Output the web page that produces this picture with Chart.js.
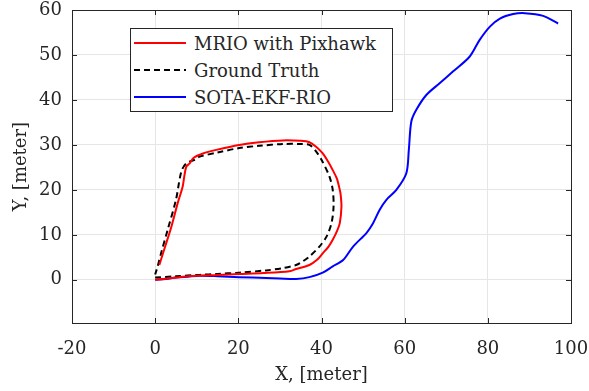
<!DOCTYPE html>
<html>
<head>
<meta charset="utf-8">
<script src="https://cdn.jsdelivr.net/npm/chart.js@4"></script>
<style>
  body { margin: 0; background: #fff; }
  .wrap { position: relative; width: 589px; height: 391px; }
  .legend {
    position: absolute; left: 130px; top: 28px; width: 261px; height: 82px;
    border: 1px solid #262626; background: #fff;
    font-family: "DejaVu Serif", serif; font-size: 18px; color: #262626;
  }
  .legend .row { position: absolute; left: 3px; height: 20px; display: flex; align-items: center; }
  .legend svg { margin-right: 8px; }
</style>
</head>
<body>
<div class="wrap">
  <canvas id="trajChart" width="589" height="391"></canvas>
  <div class="legend" id="legend"></div>
</div>
<script>
const xTicks = [-20, 0, 20, 40, 60, 80, 100];
const yTicks = [0, 10, 20, 30, 40, 50, 60];

const seriesNames = ['MRIO with Pixhawk', 'Ground Truth', 'SOTA-EKF-RIO'];

// MRIO with Pixhawk (red)
const mrioX = [0, 3, 8, 15, 20.2, 26, 32.3, 33.9, 37.1, 39, 40.3, 41.7, 42.7, 43.8, 44.4, 44.8, 44.6, 44.4, 43.7, 42.7, 41.5, 40.3, 38.7, 37.1, 35, 30.7, 25, 20.2, 14.7, 11.5, 9.2, 8.3, 7.5, 7, 6.6, 5.4, 3.9, 2.4, 1];
const mrioY = [0, 0.3, 0.8, 1.1, 1.3, 1.5, 1.9, 2.4, 3.3, 4.5, 5.9, 7.4, 8.9, 11, 12.6, 16.3, 19, 20, 22.5, 24.4, 26.4, 28.1, 29.6, 30.6, 30.9, 31, 30.6, 30, 28.9, 28.1, 27.1, 25.9, 25.2, 23, 20.7, 17, 11.8, 7.4, 3.3];

// Ground Truth (black dashed)
const truthX = [0, 5, 10.7, 15, 20.2, 26.7, 30.7, 33.9, 35.5, 37.1, 39.5, 41.2, 42.4, 42.9, 42.7, 41.9, 40, 38.5, 37.1, 35, 30.7, 25, 20.2, 15, 10.7, 9.5, 7.5, 6.3, 5, 3, 1.6, 0.6, 0];
const truthY = [0.5, 0.8, 1.1, 1.3, 1.6, 2.1, 2.6, 3.3, 4.1, 5.2, 7.4, 9.6, 12.6, 16.3, 20, 23, 26.7, 28.8, 30, 30.2, 30.2, 29.8, 29.3, 28.3, 27.4, 26.7, 25.9, 24.1, 17.8, 11.1, 6.5, 3, 1.2];

// SOTA-EKF-RIO (blue)
const sotaX = [0, 2.6, 5, 7.8, 10.7, 15, 20.2, 26.7, 30, 33.9, 37.1, 40.3, 42.7, 45.2, 47.6, 50.8, 52.4, 54, 55.6, 58, 60.4, 61, 61.6, 62.8, 65.2, 68.4, 71.6, 75.6, 78, 80.5, 82.9, 86.1, 88.9, 93.3, 96.9];
const sotaY = [0, 0.2, 0.5, 0.7, 0.9, 0.8, 0.6, 0.4, 0.3, 0.2, 0.6, 1.6, 3, 4.4, 7.4, 10.4, 12.6, 15.6, 17.8, 20, 23.7, 28.9, 35.2, 37.8, 41.1, 43.7, 46.3, 49.6, 53.3, 56.3, 58.1, 59.1, 59.3, 58.7, 57.0];

function toPoints(xs, ys) {
    return xs.map((x, i) => ({ x: x, y: ys[i] }));
}

const axisColor = '#262626';
const fontFamily = '"DejaVu Serif", serif';

const styles = [
    { color: '#ff0000', dash: [] },
    { color: '#000000', dash: [6, 4] },
    { color: '#0000ff', dash: [] }
];

// box round the plot with inward tick marks, like matlab
const boxPlugin = {
    id: 'box',
    afterDraw(chart) {
        const { ctx, chartArea: a, scales } = chart;
        ctx.save();
        ctx.strokeStyle = axisColor;
        ctx.lineWidth = 1;
        ctx.strokeRect(a.left + 0.5, a.top + 0.5, a.right - a.left, a.bottom - a.top);
        ctx.beginPath();
        xTicks.forEach(v => {
            const px = Math.round(scales.x.getPixelForValue(v)) + 0.5;
            ctx.moveTo(px, a.bottom); ctx.lineTo(px, a.bottom - 5);
            ctx.moveTo(px, a.top); ctx.lineTo(px, a.top + 5);
        });
        yTicks.forEach(v => {
            const py = Math.round(scales.y.getPixelForValue(v)) + 0.5;
            ctx.moveTo(a.left, py); ctx.lineTo(a.left + 5, py);
            ctx.moveTo(a.right, py); ctx.lineTo(a.right - 5, py);
        });
        ctx.stroke();
        ctx.restore();
    }
};

const chart = new Chart(document.getElementById('trajChart'), {
    type: 'scatter',
    data: {
        datasets: [
            { label: seriesNames[0], data: toPoints(mrioX, mrioY) },
            { label: seriesNames[1], data: toPoints(truthX, truthY) },
            { label: seriesNames[2], data: toPoints(sotaX, sotaY) }
        ].map((d, i) => Object.assign(d, {
            showLine: true,
            borderColor: styles[i].color,
            borderDash: styles[i].dash,
            borderWidth: 2,
            pointRadius: 0,
            tension: 0.3,
            fill: false
        }))
    },
    options: {
        responsive: false,
        animation: false,
        layout: { padding: { top: 10, right: 18, left: 0, bottom: 0 } },
        plugins: {
            legend: { display: false },
            tooltip: { enabled: false }
        },
        scales: {
            x: {
                type: 'linear',
                min: -20,
                max: 100,
                afterBuildTicks: axis => { axis.ticks = xTicks.map(v => ({ value: v })); },
                afterFit: axis => {
                    axis.height = 68;
                    axis.paddingLeft = 0;
                    axis.paddingRight = 0;
                },
                grid: { color: '#e6e6e6', drawTicks: false },
                border: { display: false },
                ticks: { color: axisColor, padding: 16, font: { family: fontFamily, size: 18 } },
                title: {
                    display: true, text: 'X, [meter]', color: axisColor,
                    font: { family: fontFamily, size: 18 }, padding: { top: 0, bottom: 5 }
                }
            },
            y: {
                type: 'linear',
                min: -9.6,
                max: 60,
                afterBuildTicks: axis => { axis.ticks = yTicks.map(v => ({ value: v })); },
                afterFit: axis => {
                    axis.width = 72;
                    axis.paddingTop = 0;
                    axis.paddingBottom = 0;
                },
                grid: { color: '#e6e6e6', drawTicks: false },
                border: { display: false },
                ticks: { color: axisColor, padding: 10, font: { family: fontFamily, size: 18 } },
                title: {
                    display: true, text: 'Y, [meter]', color: axisColor,
                    font: { family: fontFamily, size: 18 }, padding: { top: 11, bottom: 0 }
                }
            }
        }
    },
    plugins: [boxPlugin]
});

// legend inside the plot, built from the datasets
const legend = document.getElementById('legend');
chart.data.datasets.forEach((ds, i) => {
    const row = document.createElement('div');
    row.className = 'row';
    row.style.top = (4 + i * 27) + 'px';
    row.innerHTML = `<svg width="52" height="4"><line x1="0" y1="2" x2="52" y2="2" stroke="${ds.borderColor}" stroke-width="2" stroke-dasharray="${ds.borderDash.join(' ')}"/></svg><span>${ds.label}</span>`;
    legend.appendChild(row);
});
</script>
</body>
</html>
